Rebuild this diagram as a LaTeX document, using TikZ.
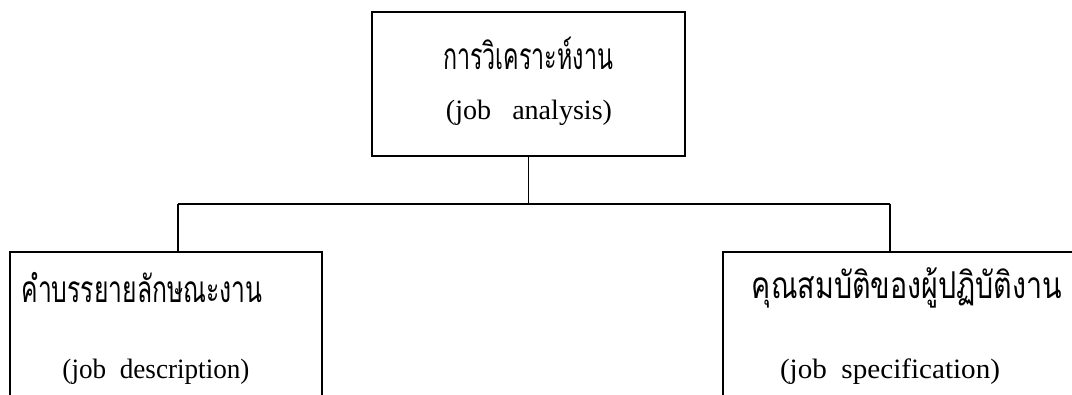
\documentclass[tikz,border=0pt]{standalone}
\usepackage{fontspec}
\usepackage{graphicx}
\setmainfont{Liberation Serif}
\newfontfamily\thaifont[Script=Thai]{Loma}
\newcommand{\fitw}[2]{\resizebox{#1}{\height}{#2}}
\begin{document}
\begin{tikzpicture}[x=1pt,y=-1pt,
  box/.style={draw,line width=1.3pt,inner sep=0pt},
  thtext/.style={inner sep=0pt,font=\thaifont\fontsize{37}{40}\selectfont},
  entext/.style={inner sep=0pt,font=\fontsize{28}{32}\selectfont},
  conn/.style={line width=1.3pt}]
\useasboundingbox (0,0) rectangle (1072,394);
\clip (0,0) rectangle (1072,394);
\node[box,minimum width=313pt,minimum height=144pt] (top) at (528.5,84) {};
\node[box,minimum width=312pt,minimum height=200pt] (lbox) at (166,352) {};
\node[box,minimum width=367pt,minimum height=200pt] (rbox) at (906.5,352) {};
\node[thtext] (t1) at (528,53) {\fitw{170pt}{การวิเคราะห์งาน}};
\node[entext] (e1) at (529,113) {\fitw{166pt}{(job\ \ \ analysis)}};
\node[thtext] (t2) at (142,288) {\fitw{241pt}{คำบรรยายลักษณะงาน}};
\node[entext] (e2) at (156,372) {\fitw{187pt}{(job\ \ description)}};
\node[thtext] (t3) at (907,288) {\fitw{310pt}{คุณสมบัติของผู้ปฏิบัติงาน}};
\node[entext] (e3) at (890,372) {\fitw{220pt}{(job\ \ specification)}};
\coordinate (lj) at (178,204);
\coordinate (rj) at (890,204);
\draw[conn] (top.south) -- (top.south |- lj);
\draw[conn] (lj) -- (rj);
\draw[conn] (lj) -- (lj |- lbox.north);
\draw[conn] (rj) -- (rj |- rbox.north);
\end{tikzpicture}
\end{document}
